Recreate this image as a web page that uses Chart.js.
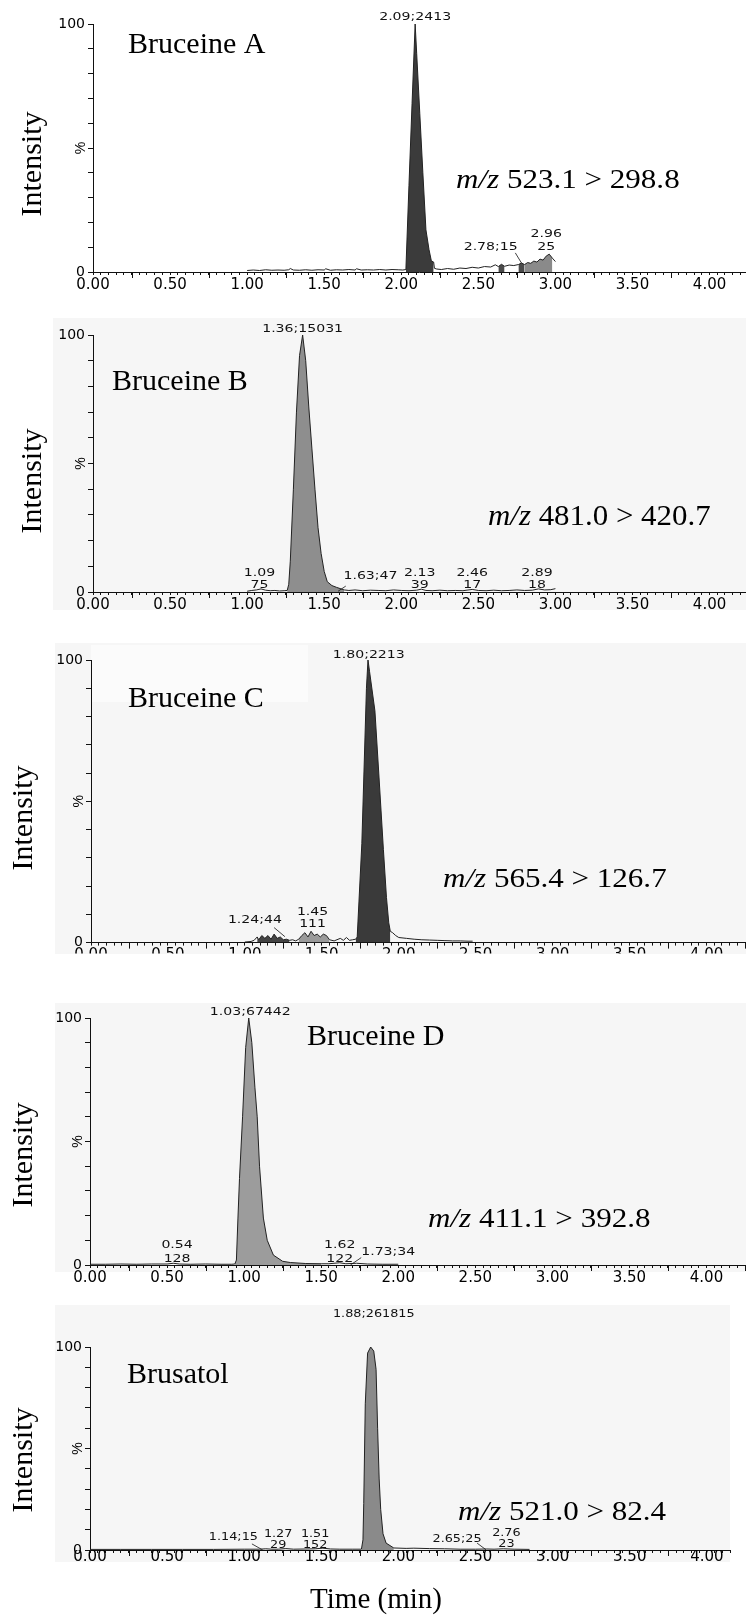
<!DOCTYPE html>
<html>
<head>
<meta charset="utf-8">
<script src="https://cdn.jsdelivr.net/npm/chart.js@4.4.0/dist/chart.umd.min.js"></script>
<style>
  html, body { margin: 0; padding: 0; background: #fff; }
  body { width: 746px; height: 1615px; position: relative; overflow: hidden; }
  canvas { position: absolute; left: 0; }
</style>
</head>
<body>
<canvas id="chart-a"></canvas>
<canvas id="chart-b"></canvas>
<canvas id="chart-c"></canvas>
<canvas id="chart-d"></canvas>
<canvas id="chart-e"></canvas>
<script>
// MRM chromatograms: retention time (min) and relative intensity (%)

const timeA = [1.00,1.04,1.08,1.12,1.16,1.20,1.24,1.27,1.28,1.30,
               1.34,1.38,1.42,1.46,1.50,1.51,1.54,1.58,1.62,1.66,
               1.70,1.71,1.74,1.78,1.82,1.86,1.90,1.94,1.98,2.01,
               2.03,2.05,2.07,2.09,2.10,2.12,2.14,2.16,2.18,2.195,
               2.21,2.215,2.23,2.26,2.30,2.34,2.38,2.42,2.46,2.50,
               2.54,2.58,2.61,2.63,2.65,2.67,2.70,2.73,2.76,2.78,
               2.80,2.82,2.84,2.86,2.88,2.90,2.92,2.94,2.96,2.98,
               3.00];
const intA  = [0.6,0.8,0.6,0.9,0.7,0.8,0.7,0.9,1.4,0.8,
               0.7,0.9,0.7,0.9,0.8,1.3,0.7,0.9,0.8,1.0,
               0.8,1.3,0.8,0.9,0.8,1.0,0.8,1.0,0.9,0.8,
               1.0,35,68,100,88,64,40,17,9,4.5,
               4,1.5,1.2,1.0,1.4,1.1,1.6,1.4,1.9,1.6,
               2.2,2.0,2.9,2.2,3.1,2.3,2.8,2.6,3.0,3.6,
               3.0,3.8,3.5,4.4,4.0,5.2,4.8,6.4,7.2,5.6,
               4.2];

const timeB = [1.00,1.03,1.06,1.09,1.12,1.15,1.18,1.21,1.24,1.26,
               1.27,1.28,1.30,1.32,1.34,1.36,1.38,1.40,1.42,1.44,
               1.46,1.48,1.50,1.52,1.55,1.58,1.63,1.66,1.70,1.75,
               1.80,1.85,1.90,1.95,2.00,2.05,2.10,2.13,2.16,2.20,
               2.25,2.30,2.35,2.40,2.46,2.50,2.55,2.60,2.65,2.70,
               2.75,2.80,2.85,2.89,2.93,2.97,3.00];
const intB  = [0.3,0.6,0.8,1.2,0.7,0.5,0.6,0.4,0.5,0.6,
               3,12,40,70,92,100,90,72,56,40,
               25,15,8,4,2.5,1.8,0.8,0.6,0.8,0.5,
               0.7,0.6,0.5,0.8,0.6,0.5,0.7,1.1,0.6,0.5,
               0.7,0.5,0.6,0.5,1.0,0.6,0.5,0.7,0.5,0.6,
               0.8,0.6,0.7,1.2,0.8,0.9,1.3];

const timeC = [1.00,1.04,1.06,1.08,1.09,1.11,1.13,1.15,1.17,1.19,
               1.21,1.23,1.25,1.27,1.29,1.31,1.33,1.35,1.37,1.39,
               1.41,1.43,1.45,1.47,1.49,1.51,1.53,1.55,1.58,1.62,
               1.64,1.66,1.68,1.70,1.72,1.73,1.76,1.79,1.80,1.81,
               1.845,1.87,1.90,1.92,1.935,1.945,1.96,1.98,2.00,2.05,
               2.10,2.15,2.20,2.25,2.30,2.35,2.40,2.45,2.48];
const intC  = [0.2,0.4,0.8,2.0,1.0,2.5,1.5,2.5,1.2,3.0,
               1.5,2.0,1.0,1.2,0.8,1.0,0.6,1.2,2.5,3.5,
               2.0,4.0,2.5,3.0,2.0,3.0,2.5,1.0,0.6,1.5,
               0.8,1.8,0.8,1.0,1.2,2.0,35,90,100,96,
               82,60,33,16,7,4,3.5,2.5,1.8,1.5,
               1.2,1.0,0.9,0.8,0.7,0.6,0.6,0.5,0.5];

const timeD = [0.00,0.10,0.20,0.30,0.40,0.50,0.54,0.58,0.65,0.75,
               0.85,0.92,0.94,0.95,0.96,0.97,0.99,1.01,1.03,1.05,
               1.07,1.085,1.10,1.125,1.15,1.19,1.25,1.30,1.40,1.50,
               1.55,1.62,1.66,1.73,1.80,1.90,2.00];
const intD  = [0.3,0.3,0.4,0.3,0.4,0.4,0.7,0.4,0.3,0.4,
               0.3,0.3,0.4,2,19,35,60,88,100,90,
               72,60,40,19,10,4,1.5,1.0,0.6,0.5,
               0.5,0.9,0.5,0.7,0.4,0.3,0.3];

const timeE = [0.00,0.20,0.40,0.60,0.80,1.00,1.10,1.14,1.18,1.22,
               1.27,1.32,1.40,1.46,1.51,1.56,1.62,1.70,1.76,1.77,
               1.775,1.785,1.80,1.82,1.84,1.855,1.865,1.875,1.885,1.90,
               1.92,1.97,2.05,2.10,2.20,2.30,2.40,2.50,2.57,2.62,
               2.68,2.75,2.85];
const intE  = [0.3,0.3,0.3,0.3,0.3,0.4,0.4,0.6,0.4,0.4,
               0.7,0.4,0.5,0.6,0.9,0.5,0.4,0.4,0.4,5,
               23,72,97,100,98,89,60,35,20,8,
               3.4,1.0,0.8,0.9,0.7,0.6,0.4,0.4,0.5,0.4,
               0.6,0.4,0.3];

// peak annotations as printed by the software
const peakLabelsA = ['2.09;2413', '2.78;15', '2.96\n25'];
const peakLabelsB = ['1.36;15031', '1.09\n75', '1.63;47', '2.13\n39', '2.46\n17', '2.89\n18'];
const peakLabelsC = ['1.80;2213', '1.24;44', '1.45\n111'];
const peakLabelsD = ['1.03;67442', '0.54\n128', '1.62\n122', '1.73;34'];
const peakLabelsE = ['1.88;261815', '1.14;15', '1.27\n29', '1.51\n152', '2.65;25', '2.76\n23'];

const compounds = ['Bruceine A', 'Bruceine B', 'Bruceine C', 'Bruceine D', 'Brusatol'];
const transitions = ['523.1 > 298.8', '481.0 > 420.7', '565.4 > 126.7', '411.1 > 392.8', '521.0 > 82.4'];

const xTickValues = [0, 0.5, 1, 1.5, 2, 2.5, 3, 3.5, 4];
const xTickLabels = ['0.00', '0.50', '1.00', '1.50', '2.00', '2.50', '3.00', '3.50', '4.00'];
const yTickValues = [0, 100];
const yTickLabels = ['0', '100'];

// layout of each panel (page pixels) and where its annotations sit ([time, level])
const panels = [
  { id: 'chart-a', top: 0, height: 300, x0: 93, yTop: 24, yZero: 272, right: 745, xMax: 4.23,
    time: timeA, inten: intA, labels: peakLabelsA,
    fills: [[2.03, 2.21, '#3b3b3b'], [2.62, 2.68, '#4a4a4a'], [2.74, 2.80, '#4a4a4a'], [2.80, 2.98, '#8a8a8a']],
    anchors: [[2.09, 101.5], [2.58, 8.9], [2.94, 14.1]],
    leaders: [null, [[2.74, 7.7], [2.78, 3.6]], null],
    lineGap: 13, labelSize: 11, bg: null, white: null,
    title: [128, 53], mz: [456, 188, 27, 1.15], intensity: [41, 164], tickPad: 1 },
  { id: 'chart-b', top: 300, height: 310, x0: 93, yTop: 335, yZero: 592, right: 745, xMax: 4.23,
    time: timeB, inten: intB, labels: peakLabelsB,
    fills: [[1.26, 1.63, '#8e8e8e']],
    anchors: [[1.36, 101], [1.08, 6.2], [1.80, 5.1], [2.12, 6.2], [2.46, 6.2], [2.88, 6.2]],
    leaders: [null, null, [[1.64, 2.3], [1.59, 0.3]], null, null, null],
    lineGap: 12, labelSize: 11, bg: [53, 318, 746, 610], white: null,
    title: [112, 390], mz: [488, 525, 30, 1.03], intensity: [41, 481], tickPad: 1 },
  { id: 'chart-c', top: 610, height: 344, x0: 91, yTop: 660, yZero: 943, right: 745, xMax: 4.25,
    time: timeC, inten: intC, labels: peakLabelsC,
    fills: [[1.07, 1.30, '#444444'], [1.35, 1.56, '#9a9a9a'], [1.72, 1.945, '#3a3a3a']],
    anchors: [[1.805, 100.7], [1.065, 7.1], [1.44, 9.9]],
    leaders: [null, [[1.19, 5.3], [1.26, 2.1]], null],
    lineGap: 12, labelSize: 11, bg: [55, 643, 746, 954], white: [91, 645, 308, 702],
    title: [128, 707], mz: [443, 887, 27, 1.15], intensity: [32, 818], tickPad: 1 },
  { id: 'chart-d', top: 954, height: 336, x0: 90, yTop: 1018, yZero: 1265, right: 746, xMax: 4.25,
    time: timeD, inten: intD, labels: peakLabelsD,
    fills: [[0.94, 1.50, '#9c9c9c']],
    anchors: [[1.04, 101.2], [0.565, 6.9], [1.62, 6.9], [1.935, 4.0]],
    leaders: [null, null, null, [[1.69, 0], [1.76, 3.0]]],
    lineGap: 14, labelSize: 11, bg: [55, 1003, 746, 1272], white: null,
    title: [307, 1045], mz: [428, 1227, 27, 1.15], intensity: [32, 1155], tickPad: 1 },
  { id: 'chart-e', top: 1290, height: 325, x0: 90, yTop: 1347, yZero: 1550, right: 730, xMax: 4.15,
    time: timeE, inten: intE, labels: peakLabelsE,
    fills: [[1.76, 1.97, '#8a8a8a']],
    anchors: [[1.84, 114.8], [0.93, 4.9], [1.22, 6.4], [1.46, 6.4], [2.38, 3.9], [2.70, 6.9]],
    leaders: [null, [[1.05, 3], [1.12, 0]], null, null, [[2.51, 3.4], [2.57, 0]], null],
    lineGap: 11, labelSize: 10, bg: [55, 1305, 730, 1562], white: null,
    title: [127, 1383], mz: [458, 1520, 27, 1.15], intensity: [32, 1460], tickPad: -5,
    xTitle: [376, 1608] }
];

const ink = '#111';

function stretchText(ctx, text, x, y, sx) {
  ctx.save();
  ctx.translate(x, y);
  ctx.scale(sx, 1);
  ctx.fillText(text, 0, 0);
  ctx.restore();
}

function decorPlugin(p, index) {
  return {
    id: 'decor',
    beforeDraw(chart) {
      const ctx = chart.ctx;
      ctx.save();
      ctx.fillStyle = '#fff';
      ctx.fillRect(0, 0, chart.width, chart.height);
      if (p.bg) {
        ctx.fillStyle = '#f6f6f6';
        ctx.fillRect(p.bg[0], p.bg[1] - p.top, p.bg[2] - p.bg[0], p.bg[3] - p.bg[1]);
      }
      if (p.white) {
        ctx.fillStyle = '#fbfbfb';
        ctx.fillRect(p.white[0], p.white[1] - p.top, p.white[2] - p.white[0], p.white[3] - p.white[1]);
      }
      ctx.restore();
    },
    afterDraw(chart) {
      const ctx = chart.ctx;
      const xs = chart.scales.x, ys = chart.scales.y;
      const base = ys.getPixelForValue(0);
      ctx.save();
      ctx.strokeStyle = ink;
      ctx.fillStyle = ink;
      ctx.lineWidth = 1;

      // longer ticks half way between the labelled ones
      ctx.beginPath();
      for (let t = 0.25; t <= p.xMax; t += 0.5) {
        const px = Math.round(xs.getPixelForValue(t)) + 0.5;
        ctx.moveTo(px, base);
        ctx.lineTo(px, base + 6);
      }
      ctx.stroke();

      // peak annotations
      ctx.font = p.labelSize + 'px "DejaVu Sans"';
      ctx.textAlign = 'center';
      ctx.textBaseline = 'alphabetic';
      p.labels.forEach((label, i) => {
        const [t, lv] = p.anchors[i];
        const px = xs.getPixelForValue(t), py = ys.getPixelForValue(lv);
        label.split('\n').forEach((line, j) => stretchText(ctx, line, px, py + j * p.lineGap, 1.28));
        const ld = p.leaders[i];
        if (ld) {
          ctx.beginPath();
          ctx.lineWidth = 0.8;
          ctx.moveTo(xs.getPixelForValue(ld[0][0]), ys.getPixelForValue(ld[0][1]));
          ctx.lineTo(xs.getPixelForValue(ld[1][0]), ys.getPixelForValue(ld[1][1]));
          ctx.stroke();
        }
      });

      // compound name
      ctx.textAlign = 'left';
      ctx.fillStyle = '#000';
      ctx.font = '30px "Liberation Serif"';
      ctx.fillText(compounds[index], p.title[0], p.title[1] - p.top);

      // MRM transition
      const [mx, my, ms, msx] = p.mz;
      ctx.save();
      ctx.translate(mx, my - p.top);
      ctx.scale(msx, 1);
      ctx.font = 'italic ' + ms + 'px "Liberation Serif"';
      ctx.fillText('m/z', 0, 0);
      const w = ctx.measureText('m/z ').width;
      ctx.font = ms + 'px "Liberation Serif"';
      ctx.fillText(transitions[index], w, 0);
      ctx.restore();

      // axis titles
      ctx.save();
      ctx.translate(p.intensity[0], p.intensity[1] - p.top);
      ctx.rotate(-Math.PI / 2);
      ctx.textAlign = 'center';
      ctx.font = '30px "Liberation Serif"';
      ctx.fillText('Intensity', 0, 0);
      ctx.restore();

      ctx.save();
      ctx.translate(p.x0 - 8, ys.getPixelForValue(50));
      ctx.rotate(-Math.PI / 2);
      ctx.textAlign = 'center';
      ctx.font = '14px "Liberation Sans"';
      ctx.fillText('%', 0, 0);
      ctx.restore();

      if (p.xTitle) {
        ctx.textAlign = 'center';
        ctx.font = '29px "Liberation Serif"';
        ctx.fillText('Time (min)', p.xTitle[0], p.xTitle[1] - p.top);
      }
      ctx.restore();
    }
  };
}

function buildPanel(p, index) {
  const canvas = document.getElementById(p.id);
  canvas.width = 746;
  canvas.height = p.height;
  canvas.style.top = p.top + 'px';

  const points = p.time.map((t, i) => ({ x: t, y: p.inten[i] }));
  const datasets = [{
    data: points,
    borderColor: '#222',
    borderWidth: 1,
    fill: false,
    pointRadius: 0,
    order: 0
  }];
  p.fills.forEach(([a, b, color]) => {
    datasets.push({
      data: points.filter(pt => pt.x >= a && pt.x <= b),
      borderColor: 'rgba(0,0,0,0)',
      borderWidth: 0,
      backgroundColor: color,
      fill: 'origin',
      pointRadius: 0,
      order: 1
    });
  });

  const minorTicks = [];
  for (let i = 0; i * 0.05 <= p.xMax + 1e-9; i++) minorTicks.push(+(i * 0.05).toFixed(2));
  const yMinor = [0, 10, 20, 30, 40, 50, 60, 70, 80, 90, 100];

  new Chart(canvas, {
    type: 'line',
    data: { datasets },
    options: {
      responsive: false,
      animation: false,
      events: [],
      layout: { padding: { left: 0, top: p.yTop - p.top, right: 746 - p.right, bottom: 0 } },
      plugins: { legend: { display: false }, tooltip: { enabled: false } },
      elements: { line: { tension: 0 }, point: { radius: 0 } },
      scales: {
        x: {
          type: 'linear',
          min: 0,
          max: p.xMax,
          afterBuildTicks: s => { s.ticks = minorTicks.map(v => ({ value: v })); },
          afterFit: s => { s.height = p.height - (p.yZero - p.top); },
          grid: { drawOnChartArea: false, drawTicks: true, tickLength: 3, color: ink, lineWidth: 1 },
          border: { display: true, color: ink, width: 1 },
          ticks: {
            autoSkip: false,
            maxRotation: 0,
            padding: p.tickPad,
            color: '#000',
            font: { family: 'DejaVu Sans', size: 15 },
            callback: v => {
              const k = xTickValues.findIndex(x => Math.abs(x - v) < 1e-6);
              return k >= 0 ? xTickLabels[k] : '';
            }
          }
        },
        y: {
          min: 0,
          max: 100,
          afterBuildTicks: s => { s.ticks = yMinor.map(v => ({ value: v })); },
          afterFit: s => { s.width = p.x0; },
          grid: { drawOnChartArea: false, drawTicks: true, tickLength: 5, color: ink, lineWidth: 1 },
          border: { display: true, color: ink, width: 1 },
          ticks: {
            autoSkip: false,
            padding: 3,
            color: '#000',
            font: { family: 'DejaVu Sans', size: 14 },
            callback: v => {
              const k = yTickValues.indexOf(v);
              return k >= 0 ? yTickLabels[k] : '';
            }
          }
        }
      }
    },
    plugins: [decorPlugin(p, index)]
  });
}

panels.forEach(buildPanel);
</script>
</body>
</html>
